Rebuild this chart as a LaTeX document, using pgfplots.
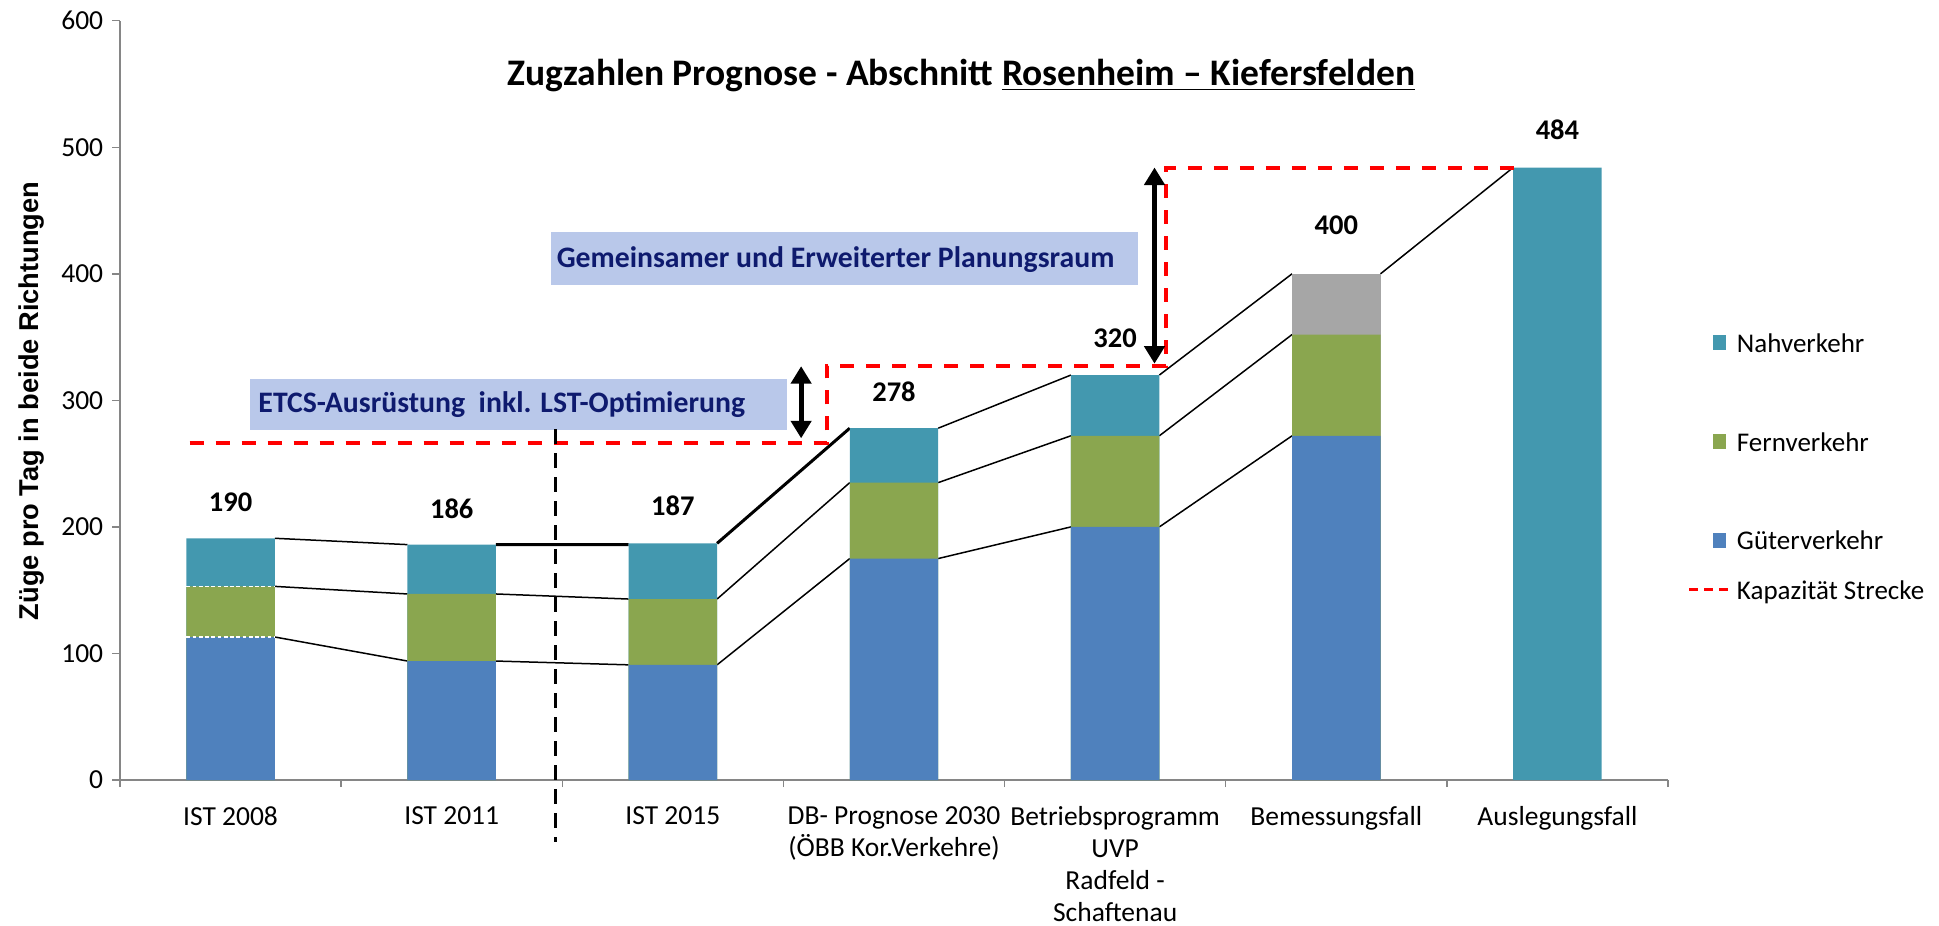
\documentclass[border=0pt]{standalone}
\usepackage{pgfplots}
\pgfplotsset{compat=1.18}
\usepackage{fontspec}
\setmainfont{Carlito}
\newfontfamily\arialfont{Liberation Sans}
\usetikzlibrary{arrows.meta}
\definecolor{guter}{HTML}{4F81BD}
\definecolor{fern}{HTML}{8AA64F}
\definecolor{nah}{HTML}{4398AF}
\definecolor{grau}{HTML}{A6A6A6}
\definecolor{boxfill}{HTML}{B9C8EA}
\definecolor{navy}{HTML}{0E1A6E}
\definecolor{axgray}{HTML}{868686}
\begin{document}
\begin{tikzpicture}
\useasboundingbox (0,0) rectangle (775.6pt,370pt);
\begin{axis}[
  at={(48pt,58pt)}, anchor=south west,
  scale only axis, width=619.2pt, height=303.72pt,
  xmin=-0.5, xmax=6.5, ymin=0, ymax=600,
  clip=false, no markers,
  axis x line*=bottom, axis y line*=left,
  axis line style={draw=axgray, line width=0.8pt},
  ytick={0,100,...,600},
  xtick={0,...,6},
  xticklabels={IST 2008, IST 2011, IST 2015, {DB- Prognose 2030\\(ÖBB Kor.Verkehre)}, {Betriebsprogramm\\UVP\\Radfeld -\\Schaftenau}, Bemessungsfall, Auslegungsfall},
  minor xtick={-0.5,0.5,...,6.5},
  tick align=outside,
  major tick length=3.2pt, minor tick length=2.8pt,
  major x tick style={draw=none},
  ytick style={draw=axgray, line width=0.6pt},
  minor x tick style={draw=axgray, line width=0.6pt},
  /pgf/number format/assume math mode=true,
  yticklabel style={font=\fontsize{11}{13}\selectfont, text=black},
  xticklabel style={align=center, font=\fontsize{11}{12.8}\selectfont, text=black, yshift=-4pt},
  ylabel={Züge pro Tag in beide Richtungen},
  ylabel style={at={(axis description cs:-0.0528,0.4993)}, anchor=base, font=\arialfont\bfseries\fontsize{10.9}{13}\selectfont},
  legend style={at={(1.0129,0.5937)}, anchor=north west, draw=none, fill=none, inner sep=0pt, outer sep=0pt,
    row sep=9pt, nodes={inner sep=0pt}, font=\fontsize{10.8}{13.2}\selectfont,
    /tikz/every odd column/.append style={column sep=2.8pt}},
  legend cell align=left,
]
% legend
\addlegendimage{legend image code/.code={\path[draw=none,fill=none] (0pt,0pt) -- (15.6pt,0pt); \fill[nah,draw=none] (9.6pt,-3pt) rectangle (14.6pt,3pt);}}
\addlegendentry{\strut Nahverkehr}
\addlegendimage{legend image code/.code={\path[draw=none,fill=none] (0pt,0pt) -- (15.6pt,0pt);}}
\addlegendentry{\strut}
\addlegendimage{legend image code/.code={\path[draw=none,fill=none] (0pt,0pt) -- (15.6pt,0pt); \fill[fern,draw=none] (9.6pt,-3pt) rectangle (14.6pt,3pt);}}
\addlegendentry{\strut Fernverkehr}
\addlegendimage{legend image code/.code={\path[draw=none,fill=none] (0pt,0pt) -- (15.6pt,0pt);}}
\addlegendentry{\strut}
\addlegendimage{legend image code/.code={\path[draw=none,fill=none] (0pt,0pt) -- (15.6pt,0pt); \fill[guter,draw=none] (9.6pt,-3pt) rectangle (14.6pt,3pt);}}
\addlegendentry{\strut Güterverkehr}
\addlegendimage{legend image code/.code={\draw[red, line width=1.2pt, dash pattern=on 3.6pt off 2.4pt] (0pt,0pt) -- (15.6pt,0pt);}}
\addlegendentry{\strut Kapazität Strecke}

% annotation boxes
\fill[boxfill] (axis cs:0.088,276.7) rectangle (axis cs:2.517,317);
\node[anchor=base west, inner sep=0pt, text=navy, font=\fontsize{11.9}{13}\selectfont\bfseries] at (axis cs:0.124,290.1) {ETCS-Ausrüstung\ \ inkl. LST-Optimierung};
\fill[boxfill] (axis cs:1.449,391.3) rectangle (axis cs:4.103,433.2);
\node[anchor=base, inner sep=0pt, text=navy, font=\fontsize{11.9}{13}\selectfont\bfseries] at (axis cs:2.736,404.7) {Gemeinsamer und Erweiterter Planungsraum};

% connecting lines
\addplot[forget plot, black, line width=0.6pt, unbounded coords=jump] coordinates {
 (0.2,113) (0.8,94) (1,nan) (1.2,94) (1.8,91) (2,nan) (2.2,91) (2.8,175) (3,nan) (3.2,175) (3.8,200) (4,nan) (4.2,200) (4.8,272)};
\addplot[forget plot, black, line width=0.6pt, unbounded coords=jump] coordinates {
 (0.2,153) (0.8,147) (1,nan) (1.2,147) (1.8,143) (2,nan) (2.2,143) (2.8,235) (3,nan) (3.2,235) (3.8,272) (4,nan) (4.2,272) (4.8,352)};
\addplot[forget plot, black, line width=0.6pt, unbounded coords=jump] coordinates {
 (0.2,191) (0.8,186) (1,nan) (3.2,278) (3.8,320) (4,nan) (4.2,320) (4.8,400) (5,nan) (5.2,400) (5.8,484)};
\addplot[forget plot, black, line width=1.2pt, unbounded coords=jump] coordinates {
 (1.2,186) (1.8,186) (2,nan) (2.2,187) (2.8,278)};

% bars (cumulative heights, drawn from top segment down)
\addplot[forget plot, ybar, bar width=0.4, bar shift=0pt, fill=grau, draw=none] coordinates {(5,400)};
\addplot[forget plot, ybar, bar width=0.4, bar shift=0pt, fill=nah, draw=none] coordinates {(0,191) (1,186) (2,187) (3,278) (4,320) (6,484)};
\addplot[forget plot, ybar, bar width=0.4, bar shift=0pt, fill=fern, draw=none] coordinates {(0,153) (1,147) (2,143) (3,235) (4,272) (5,352)};
\addplot[forget plot, ybar, bar width=0.4, bar shift=0pt, fill=guter, draw=none] coordinates {(0,113) (1,94) (2,91) (3,175) (4,200) (5,272)};
% white dotted separators on the first bar
\addplot[forget plot, white, line width=0.6pt, dash pattern=on 1.5pt off 1pt] coordinates {(-0.2,153) (0.2,153)};
\addplot[forget plot, white, line width=0.6pt, dash pattern=on 1.5pt off 1pt] coordinates {(-0.2,113) (0.2,113)};

% capacity line
\addplot[forget plot, red, line width=1.6pt, dash pattern=on 5.6pt off 4.8pt] coordinates {
 (-0.185,266) (2.695,266) (2.695,327) (4.231,327) (4.231,484) (5.805,484)};

% value labels
\addplot[forget plot, draw=none, nodes near coords, point meta=explicit symbolic,
  every node near coord/.style={anchor=base, inner sep=0pt, text=black, font=\fontsize{11.4}{13}\selectfont\bfseries}]
 coordinates {(0,212)[190] (1,207)[186] (2,209)[187] (3,299)[278] (4,342)[320] (5,431)[400] (6,506.5)[484]};

% arrows and divider
\draw[line width=2pt, {Triangle[width=8pt,length=7pt]}-{Triangle[width=8pt,length=7pt]}] (axis cs:2.58,270) -- (axis cs:2.58,327);
\draw[line width=2pt, {Triangle[width=8pt,length=7pt]}-{Triangle[width=8pt,length=7pt]}] (axis cs:4.178,329) -- (axis cs:4.178,484);
\draw[line width=1.2pt, dash pattern=on 6pt off 3.6pt] (axis cs:1.47,277) -- (axis cs:1.47,-49);

% title
\node[anchor=base, inner sep=0pt, font=\fontsize{15}{18}\selectfont\bfseries] at (axis cs:3.304,548.6) {Zugzahlen Prognose - Abschnitt \underline{Rosenheim – Kiefersfelden}};
\end{axis}
\end{tikzpicture}
\end{document}
